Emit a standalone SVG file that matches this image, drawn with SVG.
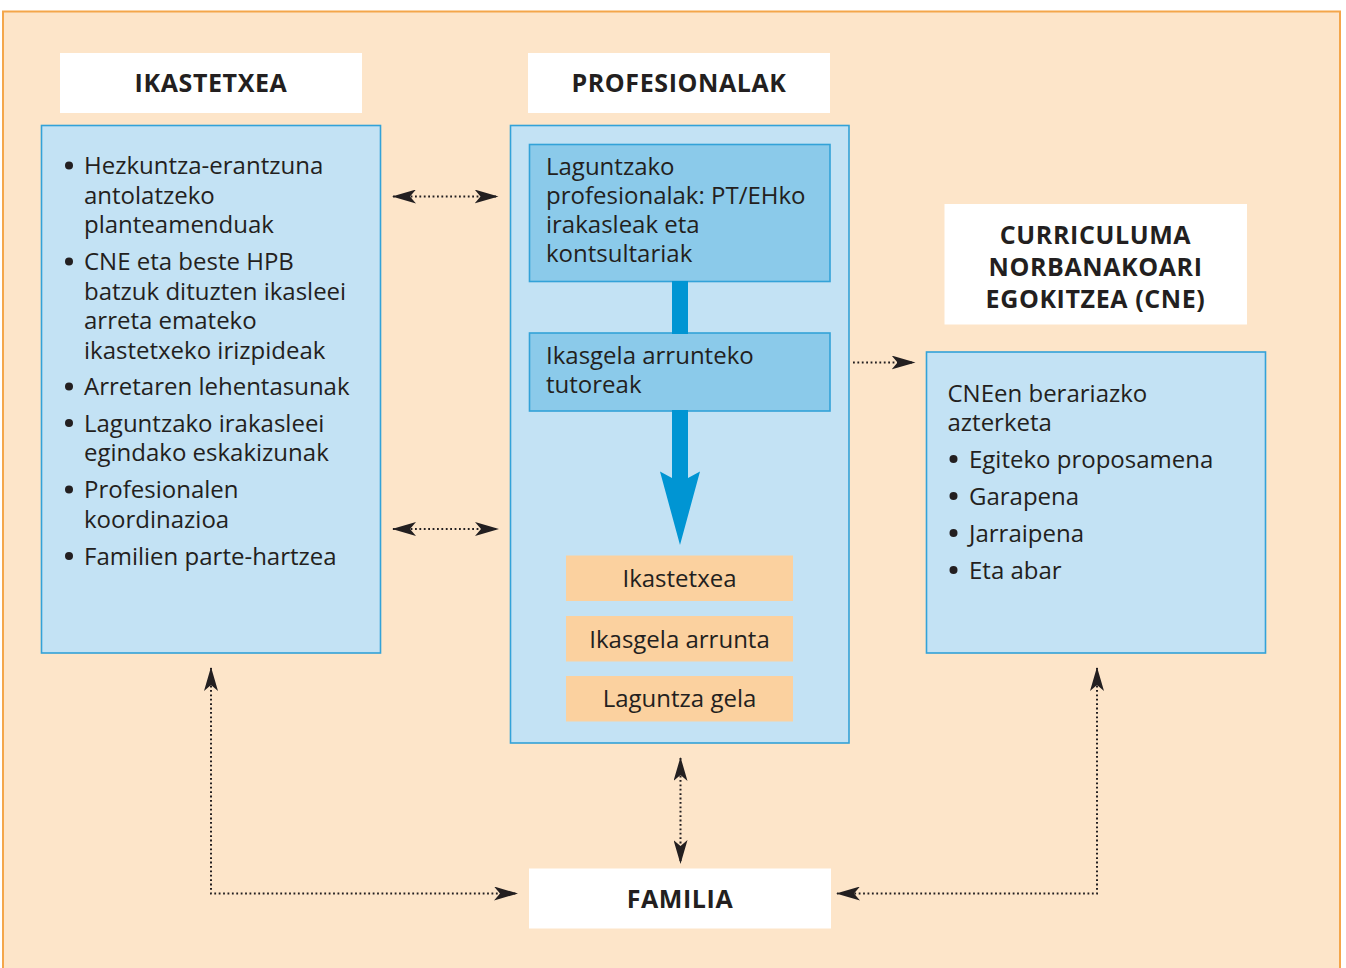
<svg xmlns="http://www.w3.org/2000/svg" width="1346" height="968" viewBox="0 0 1346 968">
<style>
.t{font-family:"Open Sans","Noto Sans","DejaVu Sans",sans-serif;font-size:24px;fill:#231F20}
.h{font-family:"Open Sans","Noto Sans","DejaVu Sans",sans-serif;font-size:25px;font-weight:bold;fill:#231F20;letter-spacing:0.6px;text-anchor:middle}
.c{text-anchor:middle}
.box{fill:#C3E2F4;stroke:#33A2D8;stroke-width:1.6}
.inner{fill:#8BCAEA;stroke:#33A2D8;stroke-width:1.6}
.hdr{fill:#FFFFFF}
.or{fill:#FBD19F}
.dot{fill:none;stroke:#231F20;stroke-width:2;stroke-dasharray:1.8 2.6}
.blue{fill:#0095D3}
.bul{fill:#231F20}
</style>
<defs>
<marker id="ah" viewBox="0 0 24 14" refX="23" refY="7" markerWidth="24" markerHeight="14" markerUnits="userSpaceOnUse" orient="auto-start-reverse">
<path d="M0,0 L24,7 L0,14 L6,7 Z" fill="#231F20"/>
</marker>
</defs>
<rect x="3" y="11.5" width="1337" height="970" fill="#FDE5C9" stroke="#F4A64A" stroke-width="2"/>

<g id="ikastetxea">
<rect class="hdr" x="60" y="53" width="302" height="60"/>
<text class="h" x="211" y="92">IKASTETXEA</text>
<rect class="box" x="41.5" y="125.5" width="339" height="527.5"/>
<g class="bul">
<circle cx="69" cy="165.5" r="4"/>
<circle cx="69" cy="261.5" r="4"/>
<circle cx="69" cy="386.5" r="4"/>
<circle cx="69" cy="423" r="4"/>
<circle cx="69" cy="489.5" r="4"/>
<circle cx="69" cy="556" r="4"/>
</g>
<text class="t" x="84" y="174">Hezkuntza-erantzuna</text>
<text class="t" x="84" y="203.5">antolatzeko</text>
<text class="t" x="84" y="233">planteamenduak</text>
<text class="t" x="84" y="270">CNE eta beste HPB</text>
<text class="t" x="84" y="299.5">batzuk dituzten ikasleei</text>
<text class="t" x="84" y="329">arreta emateko</text>
<text class="t" x="84" y="358.5">ikastetxeko irizpideak</text>
<text class="t" x="84" y="395">Arretaren lehentasunak</text>
<text class="t" x="84" y="431.5">Laguntzako irakasleei</text>
<text class="t" x="84" y="461">egindako eskakizunak</text>
<text class="t" x="84" y="498">Profesionalen</text>
<text class="t" x="84" y="527.5">koordinazioa</text>
<text class="t" x="84" y="564.5">Familien parte-hartzea</text>
</g>

<g id="profesionalak">
<rect class="hdr" x="528" y="53" width="302" height="60"/>
<text class="h" x="679" y="92">PROFESIONALAK</text>
<rect class="box" x="510.5" y="125.5" width="338.5" height="617.5"/>
</g>

<g id="laguntzako">
<rect class="inner" x="529.5" y="144.5" width="300.5" height="137"/>
<text class="t" x="546" y="175">Laguntzako</text>
<text class="t" x="546" y="204">profesionalak: PT/EHko</text>
<text class="t" x="546" y="233">irakasleak eta</text>
<text class="t" x="546" y="262">kontsultariak</text>
</g>

<g id="tutoreak">
<rect class="inner" x="529.5" y="333" width="300.5" height="78"/>
<text class="t" x="546" y="363.5">Ikasgela arrunteko</text>
<text class="t" x="546" y="392.5">tutoreak</text>
</g>

<g id="ikastetxea-box">
<rect class="or" x="566" y="555.5" width="227" height="45.5"/>
<text class="t c" x="679.5" y="587">Ikastetxea</text>
</g>
<g id="ikasgela-arrunta">
<rect class="or" x="566" y="616" width="227" height="45.5"/>
<text class="t c" x="679.5" y="648">Ikasgela arrunta</text>
</g>
<g id="laguntza-gela">
<rect class="or" x="566" y="676" width="227" height="45.5"/>
<text class="t c" x="679.5" y="707">Laguntza gela</text>
</g>

<g id="cne">
<rect class="hdr" x="944.5" y="204" width="302.5" height="120.5"/>
<text class="h" x="1095.5" y="244">CURRICULUMA</text>
<text class="h" x="1095.5" y="276">NORBANAKOARI</text>
<text class="h" x="1095.5" y="307.5">EGOKITZEA (CNE)</text>
<rect class="box" x="926.5" y="352" width="339" height="301"/>
<text class="t" x="947.5" y="401.5">CNEen berariazko</text>
<text class="t" x="947.5" y="430.5">azterketa</text>
<g class="bul">
<circle cx="953.5" cy="459" r="4"/>
<circle cx="953.5" cy="496" r="4"/>
<circle cx="953.5" cy="533" r="4"/>
<circle cx="953.5" cy="570" r="4"/>
</g>
<text class="t" x="969" y="467.5">Egiteko proposamena</text>
<text class="t" x="969" y="504.5">Garapena</text>
<text class="t" x="969" y="541.5">Jarraipena</text>
<text class="t" x="969" y="578.5">Eta abar</text>
</g>

<g id="familia">
<rect class="hdr" x="529" y="868.5" width="302" height="60"/>
<text class="h" x="680" y="908">FAMILIA</text>
</g>

<g id="connectors">
<rect class="blue" x="672" y="281" width="16" height="53"/>
<polygon class="blue" points="672,410 688,410 688,478 700,471.5 680,545 660,471.5 672,478"/>
<path class="dot" d="M393,196.5 H497.5" marker-start="url(#ah)" marker-end="url(#ah)"/>
<path class="dot" d="M393,529 H498" marker-start="url(#ah)" marker-end="url(#ah)"/>
<path class="dot" d="M853,362.5 H914.5" marker-end="url(#ah)"/>
<path class="dot" d="M680.5,758 V863" marker-start="url(#ah)" marker-end="url(#ah)"/>
<path class="dot" d="M211,668 V893.5 H517" marker-start="url(#ah)" marker-end="url(#ah)"/>
<path class="dot" d="M1097,668 V893.5 H837" marker-start="url(#ah)" marker-end="url(#ah)"/>
</g>
</svg>
